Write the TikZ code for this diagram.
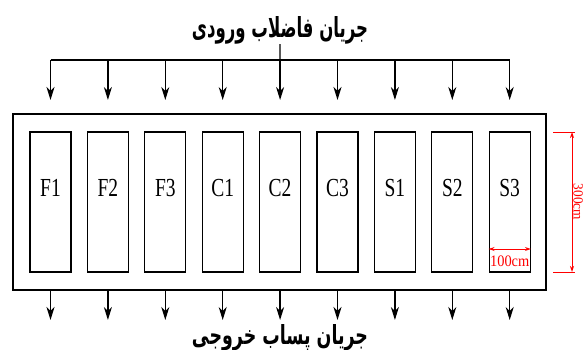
\documentclass[tikz,border=0pt]{standalone}
\usepackage{fontspec}
\setmainfont{Liberation Serif}
\newfontfamily\arabicfont[Script=Arabic]{DejaVu Sans}
\TeXXeTstate=1
\usetikzlibrary{arrows.meta}
\begin{document}
\begin{tikzpicture}[x=1pt,y=-1pt,
  wire/.style={line width=1.3pt,black},
  arr/.style={line width=1.3pt,black,-{Stealth[length=13pt,width=8pt,inset=4pt]}},
  cell/.style={draw,line width=1.3pt,minimum width=41pt,minimum height=140pt,inner sep=0pt},
  tankbox/.style={draw,line width=1.3pt,minimum width=533pt,minimum height=176pt,inner sep=0pt},
  lbl/.style={font=\fontsize{26}{26}\selectfont,inner sep=0pt},
  dim/.style={red,line width=0.9pt},
  dimarr/.style={red,line width=0.9pt,{Stealth[length=6pt,width=4pt]}-{Stealth[length=6pt,width=4pt]}},
  dimlbl/.style={red,font=\fontsize{16}{16}\selectfont,inner sep=0pt},
  fa/.style={inner sep=0pt}]
\useasboundingbox (0,0) rectangle (584,350);
\node[tankbox] (tank) at (279.5,202) {};
\foreach \n [count=\k from 0] in {F1,F2,F3,C1,C2,C3,S1,S2,S3}{
  \node[cell] (\n) at ({50.5+57.4*\k},202) {};
  \node[lbl] (t\n) at ([yshift=14pt]\n.center) {\scalebox{0.75}[1]{\n}};
  \coordinate (top\n) at ({50.5+57.4*\k},60);
  \coordinate (in\n) at ({50.5+57.4*\k},100);
  \coordinate (out\n) at ({50.5+57.4*\k},320);
  \draw[arr] (top\n) -- (in\n);
  \draw[arr] (\n |- tank.south) -- (out\n);
}
\draw[wire] (topF1) -- (topS3);
\node[fa] (inflow) at (280,30) {\resizebox{176pt}{21pt}{\arabicfont\bfseries\beginR جریان فاضلاب ورودی\endR}};
\draw[wire] (inflow.south) -- (topC2);
\node[fa] (outflow) at (280,338) {\resizebox{176pt}{20pt}{\arabicfont\bfseries\beginR جریان پساب خروجی\endR}};
% dimensions
\coordinate (d1) at (553,132);
\coordinate (d2) at (575,132);
\coordinate (d3) at (553,272);
\coordinate (d4) at (575,272);
\draw[dim] (d1) -- (d2);
\draw[dim] (d3) -- (d4);
\coordinate (v1) at (572,132);
\coordinate (v2) at (572,272);
\draw[dimarr] (v1) -- (v2);
\node[red,font=\fontsize{14}{14}\selectfont,inner sep=0pt,rotate=-90,anchor=base] (h300) at (573.5,202) {\scalebox{0.95}[1]{300cm}};
\draw[dimarr] (S3.west |- 0,249) -- (S3.east |- 0,249);
\node[dimlbl] (w100) at (509.7,261) {\scalebox{0.9}[1]{100cm}};
\end{tikzpicture}
\end{document}
